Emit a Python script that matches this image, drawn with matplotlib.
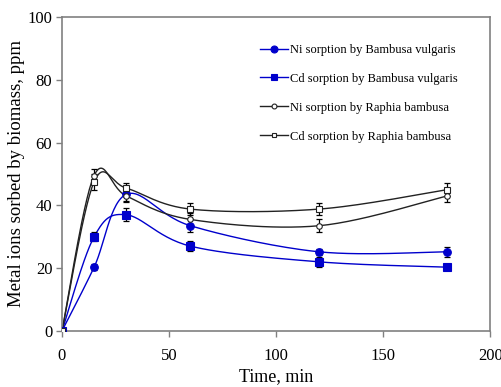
import numpy as np
import matplotlib
matplotlib.use("Agg")
import matplotlib.pyplot as plt

time = [0, 15, 30, 60, 120, 180]
ni_bv = [0, 20.3, 43.5, 33.5, 25.2, 25.2]
cd_bv = [0, 30.0, 37.0, 27.0, 22.0, 20.3]
ni_rb = [0, 49.5, 43.0, 35.5, 33.5, 43.0]
cd_rb = [0, 47.5, 45.5, 38.8, 38.8, 45.0]
err_ni_bv = [0.5, 1.0, 2.0, 2.0, 1.0, 1.5]
err_cd_bv = [0.5, 1.5, 2.0, 1.5, 1.5, 1.0]
err_ni_rb = [0.5, 2.0, 2.0, 2.0, 2.0, 2.0]
err_cd_rb = [0.5, 2.5, 1.5, 2.0, 2.0, 2.0]
labels = ["Ni sorption by Bambusa vulgaris", "Cd sorption by Bambusa vulgaris",
          "Ni sorption by Raphia bambusa", "Cd sorption by Raphia bambusa"]

plt.rcParams['font.family'] = ['Liberation Serif', 'DejaVu Serif']


def smooth(x, y, n=30, t=0.5):
    # Excel-like Catmull-Rom smoothing through the given points
    x = np.asarray(x, float); y = np.asarray(y, float)
    P = np.column_stack([x, y])
    P = np.vstack([P[0], P, P[-1]])
    out = []
    for i in range(1, len(P) - 2):
        p0, p1, p2, p3 = P[i - 1], P[i], P[i + 1], P[i + 2]
        c1 = p1 + (p2 - p0) * t / 3
        c2 = p2 - (p3 - p1) * t / 3
        s = np.linspace(0, 1, n)[:, None]
        seg = (1 - s) ** 3 * p1 + 3 * (1 - s) ** 2 * s * c1 + 3 * (1 - s) * s ** 2 * c2 + s ** 3 * p2
        out.append(seg if i == 1 else seg[1:])
    out = np.vstack(out)
    return out[:, 0], out[:, 1]


fig = plt.figure(figsize=(5.02, 3.87), dpi=100)
ax = fig.add_axes([0.1235, 0.145, 0.853, 0.811])

series = [
    (ni_bv, err_ni_bv, dict(color='#0000cc', marker='o', ms=5.5, mfc='#0000cc', mec='#0000cc')),
    (cd_bv, err_cd_bv, dict(color='#0000cc', marker='s', ms=5.5, mfc='#0000cc', mec='#0000cc')),
    (ni_rb, err_ni_rb, dict(color='#222222', marker='o', ms=4, mfc='white', mec='#222222')),
    (cd_rb, err_cd_rb, dict(color='#222222', marker='s', ms=4, mfc='white', mec='#222222')),
]
handles = []
for (vals, err, st), lab in zip(series, labels):
    sx, sy = smooth(time, vals)
    ax.plot(sx, sy, color=st['color'], lw=1.0, zorder=2)
    ax.errorbar(time, vals, yerr=err, fmt='none', ecolor='black', elinewidth=0.9,
                capsize=2.2, capthick=0.9, zorder=3)
    ax.plot(time, vals, linestyle='none', marker=st['marker'], ms=st['ms'],
            mfc=st['mfc'], mec=st['mec'], mew=0.8, zorder=4)
    h, = ax.plot([], [], color=st['color'], lw=1.0, marker=st['marker'],
                 ms=st['ms'] - 0.5, mfc=st['mfc'], mec=st['mec'], mew=0.8)
    handles.append(h)

ax.set_xlim(0, 200)
ax.set_ylim(0, 100)
ax.set_xticks([0, 50, 100, 150, 200])
ax.set_yticks([0, 20, 40, 60, 80, 100])
ax.tick_params(direction='out', length=4, width=1, color='#808080', labelsize=12, pad=3)
ax.tick_params(axis='x', pad=8)
for sp in ax.spines.values():
    sp.set_color('#808080')
    sp.set_linewidth(1.2)
ax.set_xlabel('Time, min', fontsize=13, labelpad=3)
ax.set_ylabel('Metal ions sorbed by biomass, ppm', fontsize=13.5, labelpad=2)

leg = ax.legend(handles, labels, loc='upper left', bbox_to_anchor=(0.45, 0.93),
                frameon=False, fontsize=9, handlelength=2.3, handletextpad=0.15,
                labelspacing=1.35, borderaxespad=0)

fig.savefig('out.png', dpi=100)
